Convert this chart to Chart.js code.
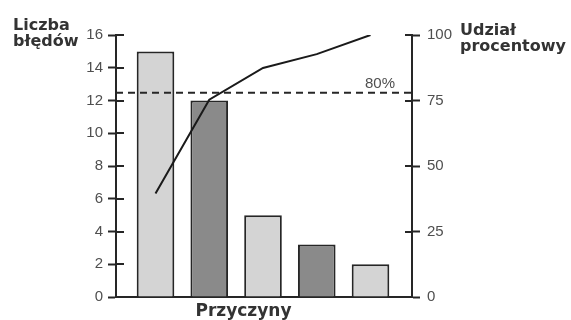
<!DOCTYPE html>
<html><head><meta charset="utf-8">
<script src="https://cdn.jsdelivr.net/npm/chart.js@4.4.1/dist/chart.umd.min.js"></script>
<style>html,body{margin:0;padding:0;background:#fff;overflow:hidden}</style>
</head><body>
<canvas id="c" width="571" height="320"></canvas>
<script>
// ---- data ----
const causePositions = [1, 2, 3, 4, 5];
const errorCounts = [15, 12, 5, 3.2, 2];
const cumulativePercent = [39.5, 75.3, 87.4, 92.7, 100];
const thresholdPercent = 78;
const thresholdLabel = '80%';
const leftTickValues = [0, 2, 4, 6, 8, 10, 12, 14, 16];
const rightTickValues = [0, 25, 50, 75, 100];
const leftTitle = ['Liczba', 'błędów'];
const rightTitle = ['Udział', 'procentowy'];
const xTitle = 'Przyczyny';

// ---- styling ----
const barColors = ['#d4d4d4', '#8a8a8a', '#d4d4d4', '#8a8a8a', '#d4d4d4'];
const ink = '#262626';
const tickGray = '#4f4f4f';
const xMin = 0.265, xMax = 5.772;

const barData = causePositions.map((x, i) => ({x, y: errorCounts[i]}));
const lineData = causePositions.map((x, i) => ({x, y: cumulativePercent[i]}));
const thresholdData = [{x: xMin, y: thresholdPercent}, {x: xMax, y: thresholdPercent}];

const extras = {
  id: 'extras',
  afterDraw(chart) {
    const {ctx, chartArea: a, scales} = chart;
    ctx.save();
    ctx.strokeStyle = ink;
    ctx.lineWidth = 2;
    scales.y.ticks.forEach(t => {
      const y = Math.round(scales.y.getPixelForValue(t.value));
      ctx.beginPath(); ctx.moveTo(a.left, y); ctx.lineTo(a.left + 8, y); ctx.stroke();
    });
    scales.y2.ticks.forEach(t => {
      const y = Math.round(scales.y2.getPixelForValue(t.value));
      ctx.beginPath(); ctx.moveTo(a.right, y); ctx.lineTo(a.right - 7, y); ctx.stroke();
    });
    ctx.fillStyle = '#333';
    ctx.font = 'bold 16px "DejaVu Sans"';
    ctx.textAlign = 'left';
    ctx.textBaseline = 'alphabetic';
    ctx.fillText(leftTitle[0], 13, a.top - 5);
    ctx.fillText(leftTitle[1], 13, a.top + 11);
    ctx.fillText(rightTitle[0], a.right + 48, a.top);
    ctx.fillText(rightTitle[1], a.right + 48, a.top + 16);
    ctx.font = 'bold 17px "DejaVu Sans"';
    ctx.textAlign = 'center';
    ctx.fillText(xTitle, 243.5, a.bottom + 19);
    ctx.fillStyle = tickGray;
    ctx.font = '15px "Liberation Sans"';
    ctx.textAlign = 'right';
    ctx.fillText(thresholdLabel, 395, scales.y2.getPixelForValue(thresholdPercent) - 5);
    ctx.restore();
  }
};

new Chart(document.getElementById('c'), {
  type: 'bar',
  data: {
    datasets: [
      {
        type: 'line', data: thresholdData, yAxisID: 'y2', order: 1,
        borderColor: ink, borderWidth: 2, borderDash: [7, 5], pointRadius: 0, fill: false
      },
      {
        type: 'line', data: lineData, yAxisID: 'y2', order: 0,
        borderColor: '#1a1a1a', borderWidth: 2, tension: 0, pointRadius: 0, fill: false
      },
      {
        type: 'bar', data: barData, yAxisID: 'y', order: 2,
        backgroundColor: barColors, borderColor: ink, borderWidth: 2,
        barPercentage: 0.7, categoryPercentage: 1.0
      }
    ]
  },
  options: {
    responsive: false,
    animation: false,
    events: [],
    layout: {padding: {top: 35, bottom: 23, left: 0, right: 0}},
    plugins: {legend: {display: false}, tooltip: {enabled: false}},
    scales: {
      x: {
        type: 'linear', min: xMin, max: xMax, offset: false,
        grid: {display: false},
        ticks: {display: false},
        border: {display: true, color: ink, width: 2},
        afterFit: s => { s.height = 0; }
      },
      y: {
        position: 'left', min: 0, max: 16,
        afterBuildTicks: s => { s.ticks = leftTickValues.map(v => ({value: v})); },
        grid: {drawOnChartArea: false, drawTicks: true, tickLength: 8, tickColor: ink, tickWidth: 2},
        border: {display: true, color: ink, width: 2},
        ticks: {color: tickGray, padding: 5, font: {family: 'Liberation Sans', size: 15}},
        afterFit: s => { s.width = 116; }
      },
      y2: {
        position: 'right', min: 0, max: 100,
        afterBuildTicks: s => { s.ticks = rightTickValues.map(v => ({value: v})); },
        grid: {drawOnChartArea: false, drawTicks: true, tickLength: 8, tickColor: ink, tickWidth: 2},
        border: {display: true, color: ink, width: 2},
        ticks: {color: tickGray, padding: 7, font: {family: 'Liberation Sans', size: 15}},
        afterFit: s => { s.width = 159; }
      }
    }
  },
  plugins: [extras]
});
</script>
</body></html>
